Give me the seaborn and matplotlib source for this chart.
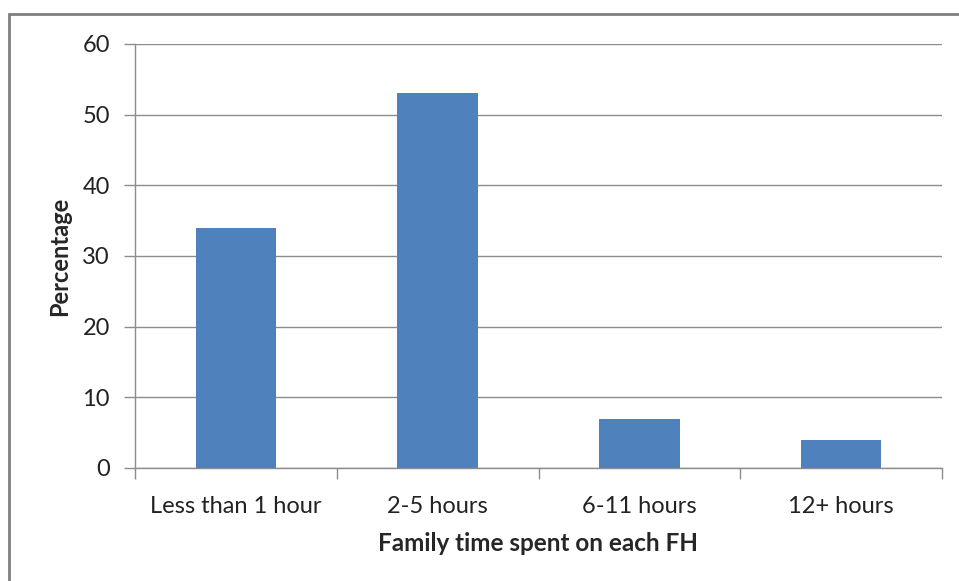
import matplotlib
matplotlib.use("Agg")
import matplotlib.pyplot as plt
import seaborn as sns
import pandas as pd
from matplotlib.patches import Rectangle

categories = ["Less than 1 hour", "2-5 hours", "6-11 hours", "12+ hours"]
percentages = [34, 53, 7, 4]
y_ticks = [0, 10, 20, 30, 40, 50, 60]

sns.set_style("white")
plt.rcParams['font.family'] = ['Lato', 'DejaVu Sans']

df = pd.DataFrame({"category": categories, "percentage": percentages})

fig = plt.figure(figsize=(9.59, 5.81), dpi=100)
ax = fig.add_axes([135 / 959, 1 - 468 / 581, (942 - 135) / 959, (468 - 44) / 581])

sns.barplot(data=df, x="category", y="percentage", color="#4F81BD",
            saturation=1, width=0.4, linewidth=0, ax=ax)

grid_c = "#8c8c8c"
ax.set_ylim(0, 60)
ax.set_xlim(-0.5, len(categories) - 0.5)
ax.set_yticks(y_ticks)
ax.yaxis.grid(True, color=grid_c, linewidth=1)
ax.set_axisbelow(True)

for side in ["top", "right"]:
    ax.spines[side].set_visible(False)
for side in ["left", "bottom"]:
    ax.spines[side].set_color(grid_c)
    ax.spines[side].set_linewidth(1)

# category boundary ticks on x axis
ax.set_xticks(range(len(categories)))
ax.set_xticklabels(categories)
ax.tick_params(axis="x", which="major", bottom=False, length=0, pad=20,
               labelsize=17, labelcolor="#222222")
ax.set_xticks([i - 0.5 for i in range(len(categories) + 1)], minor=True)
ax.tick_params(axis="x", which="minor", bottom=True, length=8,
               color=grid_c, width=1)
ax.tick_params(axis="y", left=True, length=8, color=grid_c, width=1, pad=10,
               labelsize=17, labelcolor="#222222")

ax.set_xlabel("Family time spent on each FH", fontsize=17.5, fontweight="bold",
              labelpad=11)
ax.set_ylabel("Percentage", fontsize=17, fontweight="bold", labelpad=8)

# outer chart border
fig.patches.append(Rectangle((9 / 959, -0.01), 1, 1 - 14 / 581 + 0.01,
                             transform=fig.transFigure, fill=False,
                             edgecolor="#808080", linewidth=2))

fig.savefig("out.png", dpi=100)
